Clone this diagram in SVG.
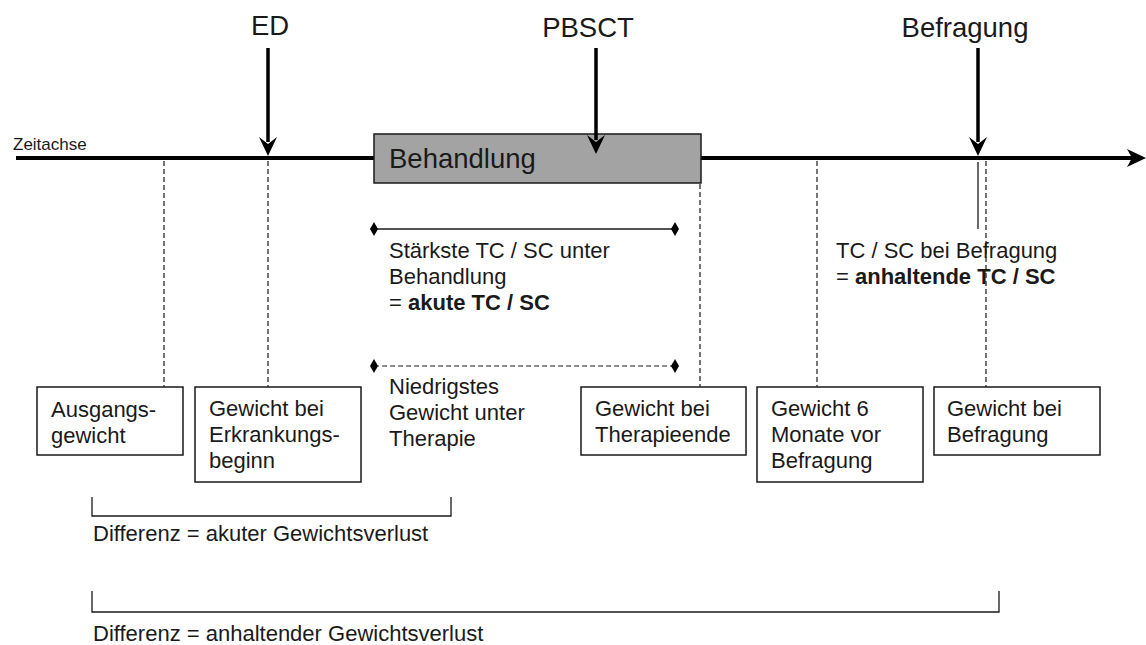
<svg xmlns="http://www.w3.org/2000/svg" width="1146" height="645" viewBox="0 0 1146 645">
<style>
text{font-family:"Liberation Sans",Arial,sans-serif;fill:#1a1a1a}
.big{font-size:27.5px}
.mid{font-size:22px}
.sm{font-size:17px}
.b{font-weight:bold}
.box{fill:#fff;stroke:#1a1a1a;stroke-width:1.5}
.dash{stroke:#1a1a1a;stroke-width:1.2;stroke-dasharray:5 3;fill:none}
.thin{stroke:#1a1a1a;stroke-width:1.3;fill:none}
.axis{stroke:#000;stroke-width:4;fill:none}
.shaft{stroke:#000;stroke-width:3.5;fill:none}
</style>
<defs>
<path id="head" d="M0,0 L-9,-19 L0,-12 L9,-19 Z" fill="#000"/>
<path id="dia" d="M0,-7 L4,0 L0,7 L-4,0 Z" fill="#000"/>
</defs>
<rect width="1146" height="645" fill="#fff"/>

<g id="connectors">
<line class="axis" x1="16" y1="158" x2="374" y2="158"/>
<line class="axis" x1="701" y1="158" x2="1136" y2="158"/>
<path d="M1146,158 L1127,149 L1132,158 L1127,167 Z" fill="#000"/>
<line class="dash" x1="164" y1="161" x2="164" y2="387"/>
<line class="dash" x1="268" y1="161" x2="268" y2="387"/>
<line class="dash" x1="700" y1="184" x2="700" y2="387"/>
<line class="dash" x1="817" y1="161" x2="817" y2="387"/>
<line class="dash" x1="986" y1="161" x2="986" y2="387"/>
<line class="thin" x1="978" y1="162" x2="978" y2="229"/>
<line class="thin" x1="374" y1="229" x2="675" y2="229"/>
<use href="#dia" x="374" y="229"/>
<use href="#dia" x="675" y="229"/>
<line class="dash" x1="374" y1="366" x2="675" y2="366"/>
<use href="#dia" x="374" y="366"/>
<use href="#dia" x="675" y="366"/>
<path class="thin" d="M92,497 V516 H451 V497"/>
<path class="thin" d="M92,591 V612 H999 V591"/>
</g>

<g id="zeitachse"><text class="sm" x="13" y="150">Zeitachse</text></g>

<g id="ed">
<text class="big" x="270" y="35" text-anchor="middle">ED</text>
<line class="shaft" x1="268" y1="48" x2="268" y2="142"/>
<use href="#head" x="268" y="156"/>
</g>

<g id="behandlung">
<rect x="374" y="134" width="327" height="49" fill="#a3a3a3" stroke="#1a1a1a" stroke-width="1.5"/>
<text class="big" x="389" y="168">Behandlung</text>
</g>

<g id="pbsct">
<text class="big" x="588" y="37" text-anchor="middle">PBSCT</text>
<line class="shaft" x1="596" y1="48" x2="596" y2="140"/>
<use href="#head" x="596" y="154"/>
</g>

<g id="befragung">
<text class="big" x="965" y="37" text-anchor="middle">Befragung</text>
<line class="shaft" x1="978" y1="48" x2="978" y2="142"/>
<use href="#head" x="978" y="156"/>
</g>

<g id="akute">
<text class="mid" x="389" y="258">Stärkste TC / SC unter</text>
<text class="mid" x="389" y="284">Behandlung</text>
<text class="mid" x="389" y="310">= <tspan class="b">akute TC / SC</tspan></text>
</g>

<g id="anhaltende">
<text class="mid" x="836" y="258">TC / SC bei Befragung</text>
<text class="mid" x="836" y="284">= <tspan class="b">anhaltende TC / SC</tspan></text>
</g>

<g id="niedrigstes">
<text class="mid" x="389" y="394">Niedrigstes</text>
<text class="mid" x="389" y="420">Gewicht unter</text>
<text class="mid" x="389" y="446">Therapie</text>
</g>

<g id="ausgangsgewicht">
<rect class="box" x="37" y="387" width="146" height="68"/>
<text class="mid" x="51" y="417">Ausgangs-</text>
<text class="mid" x="51" y="443">gewicht</text>
</g>

<g id="erkrankung">
<rect class="box" x="195" y="387" width="166" height="95"/>
<text class="mid" x="209" y="416">Gewicht bei</text>
<text class="mid" x="209" y="442">Erkrankungs-</text>
<text class="mid" x="209" y="468">beginn</text>
</g>

<g id="therapieende">
<rect class="box" x="581" y="387" width="165" height="68"/>
<text class="mid" x="595" y="416">Gewicht bei</text>
<text class="mid" x="595" y="442">Therapieende</text>
</g>

<g id="sechsmonate">
<rect class="box" x="757" y="387" width="166" height="95"/>
<text class="mid" x="771" y="416">Gewicht 6</text>
<text class="mid" x="771" y="442">Monate vor</text>
<text class="mid" x="771" y="468">Befragung</text>
</g>

<g id="gewichtbefragung">
<rect class="box" x="934" y="387" width="166" height="68"/>
<text class="mid" x="947" y="416">Gewicht bei</text>
<text class="mid" x="947" y="442">Befragung</text>
</g>

<g id="diff1"><text class="mid" x="93" y="541">Differenz = akuter Gewichtsverlust</text></g>
<g id="diff2"><text class="mid" x="93" y="641">Differenz = anhaltender Gewichtsverlust</text></g>
</svg>
